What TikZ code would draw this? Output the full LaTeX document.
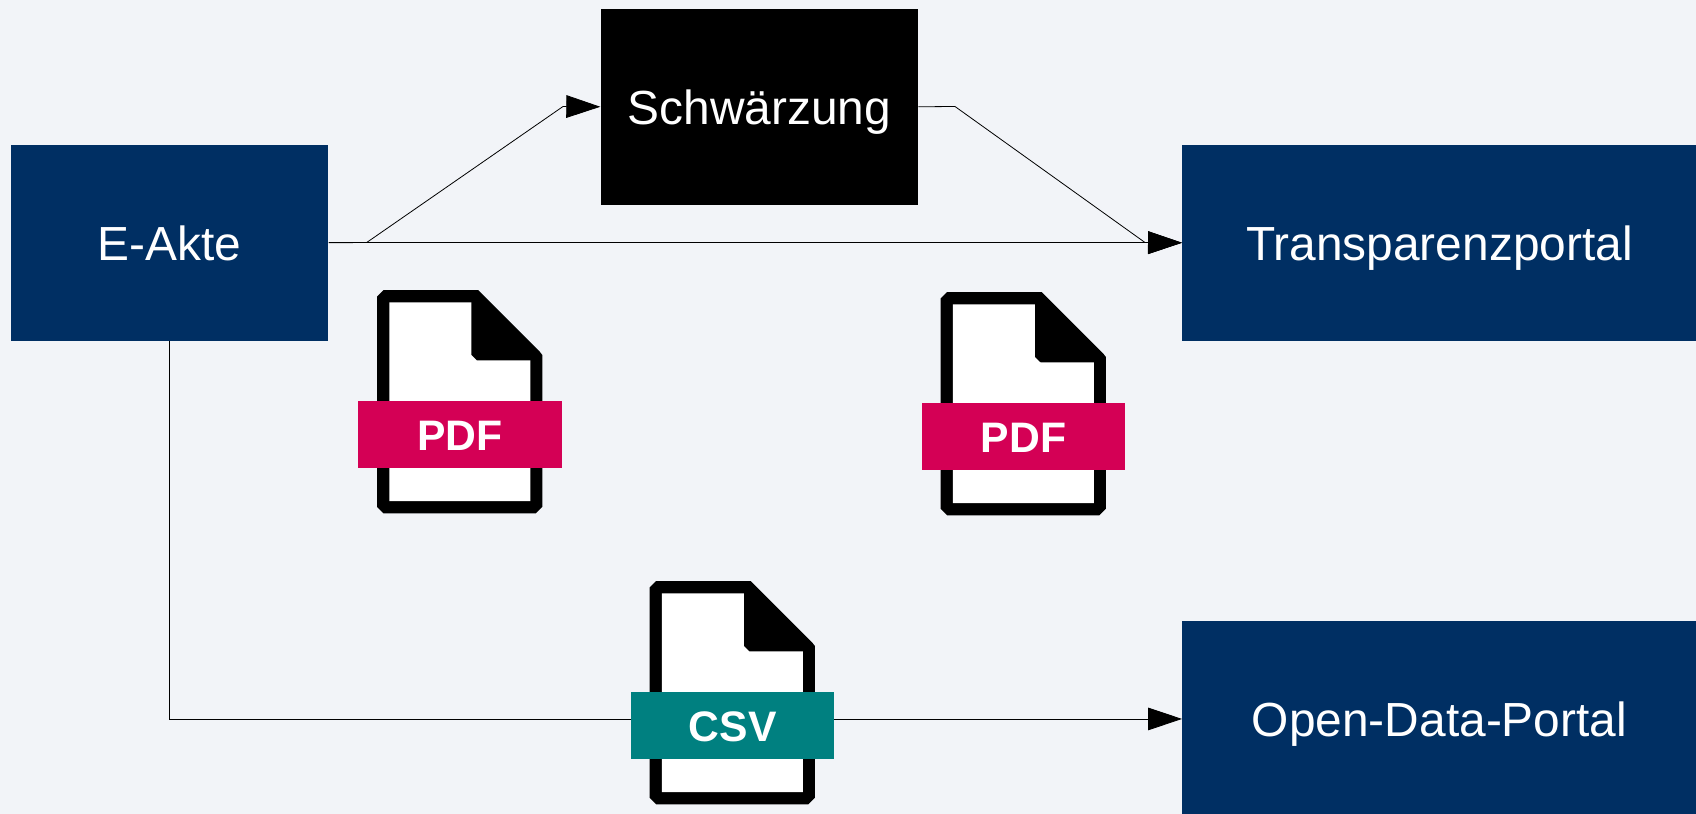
\documentclass[tikz,border=0pt]{standalone}
\usepackage{fontspec}
\setmainfont{Liberation Sans}
\usetikzlibrary{arrows.meta}
\definecolor{pagebg}{HTML}{F2F4F8}
\definecolor{portal}{HTML}{002F63}
\definecolor{pdfred}{HTML}{D40055}
\definecolor{csvteal}{HTML}{008080}
\tikzset{
  x=0.75pt,y=-0.75pt,
  boxnode/.style={draw=none,inner sep=0pt,text=white,text height=26pt,text depth=0pt,font=\fontsize{35.9}{40}\selectfont},
  conn/.style={draw=black,line width=0.6pt},
  tipped/.style={conn,-{Triangle[length=25.5pt,width=17pt]}},
  banner/.style={inner sep=0pt,minimum width=152.5pt,minimum height=50.5pt,text=white,text height=23pt,text depth=0pt,font=\fontsize{32}{34}\selectfont\bfseries},
  pics/fileicon/.style={code={
    \fill[black] (383.5,290) -- (478,290) -- (539.8,351.8) -- (542.3,355) -- (542.3,506.8) -- (535.8,513.3) -- (383.5,513.3) -- (377,506.8) -- (377,296.5) -- cycle;
    \fill[white] (389.3,302.3) -- (471.3,302.3) -- (471.3,355) -- (476.7,360.3) -- (530.3,360.3) -- (530.3,501) -- (389.3,501) -- cycle;
  }}
}
\begin{document}
\begin{tikzpicture}
\useasboundingbox (0,0) rectangle (1696,814);
\fill[pagebg] (0,0) rectangle (1696,814);
% boxes
\node[boxnode,fill=portal,minimum width=237.75pt,minimum height=147pt,anchor=north west] (eakte) at (11,144.5) {E-Akte};
\node[boxnode,fill=black,minimum width=238.2pt,minimum height=147pt,anchor=north west] (schw) at (600.3,8.5) {Schwärzung};
\node[boxnode,fill=portal,minimum width=385.8pt,minimum height=147pt,anchor=north west] (transp) at (1182,144.5) {Transparenzportal};
\node[boxnode,fill=portal,minimum width=385.8pt,minimum height=146.5pt,anchor=north west] (odp) at (1182,621) {Open-Data-Portal};
% connectors
\coordinate (ea) at (366.7,242.5);
\coordinate (eb) at (563,106.5);
\coordinate (sa) at (955,106.5);
\coordinate (sb) at (1145,242.5);
\draw[tipped] (eakte.east) -- (ea) -- (eb) -- (schw.west);
\draw[tipped] (schw.east) -- (sa) -- (sb) -- (transp.west);
\draw[tipped] (eakte.east) -- (transp.west);
\draw[tipped] (eakte.south) |- (odp.west);
% file icons
\pic at (0,0) {fileicon};
\pic at (563.6,2) {fileicon};
\pic at (272.6,291) {fileicon};
\node[banner,fill=pdfred] (pdfa) at (460,434.7) {PDF};
\node[banner,fill=pdfred] (pdfb) at (1023.6,436.7) {PDF};
\node[banner,fill=csvteal] (csv) at (732.6,725.7) {CSV};
\end{tikzpicture}
\end{document}
